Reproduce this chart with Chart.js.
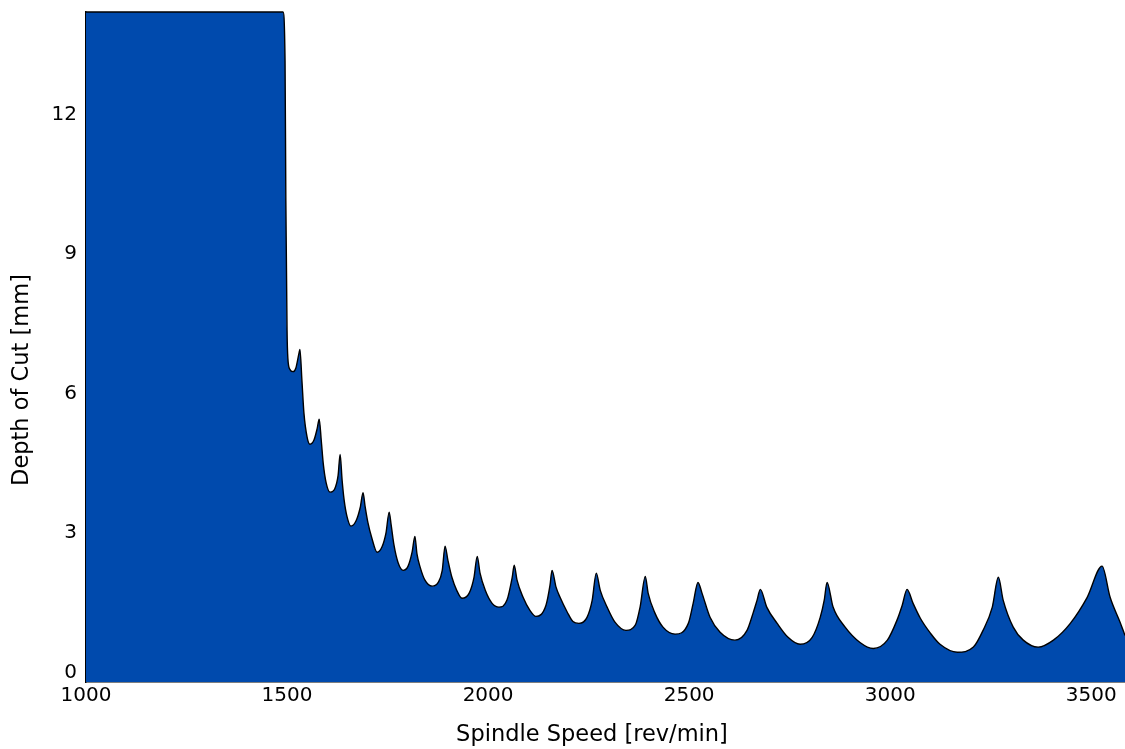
<!DOCTYPE html>
<html>
<head>
<meta charset="utf-8">
<script src="https://cdn.jsdelivr.net/npm/chart.js@4.4.1/dist/chart.umd.min.js"></script>
<style>
  html, body { margin: 0; padding: 0; background: #fff; }
  #wrap { width: 1125px; height: 749px; }
</style>
</head>
<body>
<div id="wrap"><canvas id="chart" width="1125" height="749"></canvas></div>
<script>
// spindle speed [rev/min]
const speed = [
  1000, 1490, 1495, 1497, 1500, 1502, 1507, 1515, 1522, 1530, 1532,
  1537, 1542, 1550, 1557, 1567, 1575, 1580,
  1585, 1590, 1597, 1607, 1619, 1627, 1632,
  1637, 1642, 1649, 1659, 1672, 1682, 1689,
  1694, 1701, 1711, 1724, 1736, 1746, 1754,
  1759, 1766, 1776, 1789, 1801, 1811, 1818,
  1823, 1831, 1843, 1861, 1876, 1886, 1893,
  1900, 1910, 1922, 1935, 1953, 1965, 1973,
  1980, 1993, 2010, 2027, 2047, 2060, 2065,
  2072, 2087, 2104, 2119, 2144, 2154, 2159,
  2169, 2179, 2197, 2211, 2226, 2246, 2259, 2269,
  2279, 2296, 2316, 2343, 2366, 2378, 2391,
  2398, 2415, 2435, 2465, 2498, 2510, 2522,
  2532, 2552, 2577, 2614, 2644, 2659, 2669, 2677,
  2693, 2719, 2746, 2776, 2806, 2826, 2836, 2843,
  2858, 2888, 2925, 2958, 2993, 3017, 3030, 3042,
  3057, 3075, 3100, 3124, 3167, 3207, 3231, 3254, 3269,
  3281, 3306, 3331, 3368, 3406, 3448, 3490, 3527,
  3547, 3572, 3584
];

// depth of cut [mm] at each speed
const depth = [
  14.2, 14.2, 13.16, 10.15, 7.36, 6.76, 6.52, 6.47, 6.55, 6.88, 6.95,
  6.28, 5.58, 5.06, 4.91, 5.00, 5.25, 5.45,
  5.00, 4.50, 4.09, 3.88, 3.96, 4.24, 4.69,
  4.13, 3.71, 3.36, 3.15, 3.27, 3.55, 3.87,
  3.58, 3.23, 2.89, 2.59, 2.70, 3.00, 3.45,
  3.17, 2.74, 2.37, 2.20, 2.29, 2.59, 2.93,
  2.56, 2.27, 1.99, 1.86, 1.94, 2.20, 2.72,
  2.42, 2.05, 1.77, 1.60, 1.71, 2.05, 2.50,
  2.14, 1.77, 1.49, 1.41, 1.56, 2.05, 2.31,
  1.99, 1.62, 1.34, 1.21, 1.45, 1.88, 2.20,
  1.84, 1.62, 1.30, 1.10, 1.06, 1.19, 1.56, 2.14,
  1.77, 1.41, 1.08, 0.91, 1.02, 1.41, 2.07,
  1.71, 1.28, 0.98, 0.83, 1.06, 1.49, 1.94,
  1.71, 1.19, 0.87, 0.70, 0.91, 1.28, 1.56, 1.79,
  1.41, 1.06, 0.76, 0.61, 0.76, 1.19, 1.56, 1.94,
  1.41, 0.98, 0.65, 0.52, 0.70, 1.13, 1.45, 1.79,
  1.49, 1.17, 0.85, 0.61, 0.44, 0.55, 0.91, 1.41, 2.05,
  1.56, 0.98, 0.70, 0.55, 0.70, 1.06, 1.62, 2.29,
  1.62, 1.08, 0.80
];

const xTicks = [1000, 1500, 2000, 2500, 3000, 3500];
const yTicks = [0, 3, 6, 9, 12];
const xTitle = 'Spindle Speed [rev/min]';
const yTitle = 'Depth of Cut [mm]';

const points = speed.map((s, i) => ({ x: s, y: depth[i] }));
const tickFont = { family: 'DejaVu Sans', size: 20 };

function noPad(axis) {
    axis.paddingTop = 0;
    axis.paddingBottom = 0;
    axis.paddingLeft = 0;
    axis.paddingRight = 0;
}

// axis titles sit a bit off the plot centre in the original, so draw them by hand
const axisTitles = {
    id: 'axisTitles',
    afterDraw(chart) {
        const c = chart.ctx;
        c.save();
        c.fillStyle = '#000';
        c.font = '22.5px "DejaVu Sans"';
        c.textAlign = 'center';
        c.textBaseline = 'middle';
        c.fillText(xTitle, 592, 735);
        c.translate(22, 380);
        c.rotate(-Math.PI / 2);
        c.fillText(yTitle, 0, 0);
        c.restore();
    }
};

const ctx = document.getElementById('chart').getContext('2d');

new Chart(ctx, {
    type: 'line',
    data: {
        datasets: [{
            data: points,
            fill: 'start',
            backgroundColor: '#004aad',
            borderColor: '#000',
            borderWidth: 1.4,
            pointRadius: 0,
            cubicInterpolationMode: 'monotone',
            clip: 2
        }]
    },
    options: {
        responsive: false,
        animation: false,
        layout: { padding: { top: 12, left: 0, right: 0, bottom: 0 } },
        plugins: { legend: { display: false }, tooltip: { enabled: false } },
        scales: {
            x: {
                type: 'linear',
                min: 1000,
                max: 3584,
                grid: { display: false, drawTicks: false },
                border: { display: true, color: '#000', width: 1.4 },
                afterBuildTicks: (axis) => { axis.ticks = xTicks.map(v => ({ value: v })); },
                afterFit: (axis) => { axis.height = 67; noPad(axis); },
                ticks: { color: '#000', font: tickFont, padding: 2, maxRotation: 0, callback: (v) => String(v) },
                title: { display: false }
            },
            y: {
                min: -0.2,
                max: 14.2,
                grid: { display: false, drawTicks: false },
                border: { display: true, color: '#000', width: 1.4 },
                afterBuildTicks: (axis) => { axis.ticks = yTicks.map(v => ({ value: v })); },
                afterFit: (axis) => { axis.width = 86; noPad(axis); },
                ticks: { color: '#000', font: tickFont, padding: 9, callback: (v) => String(v) },
                title: { display: false }
            }
        }
    },
    plugins: [axisTitles]
});
</script>
</body>
</html>
